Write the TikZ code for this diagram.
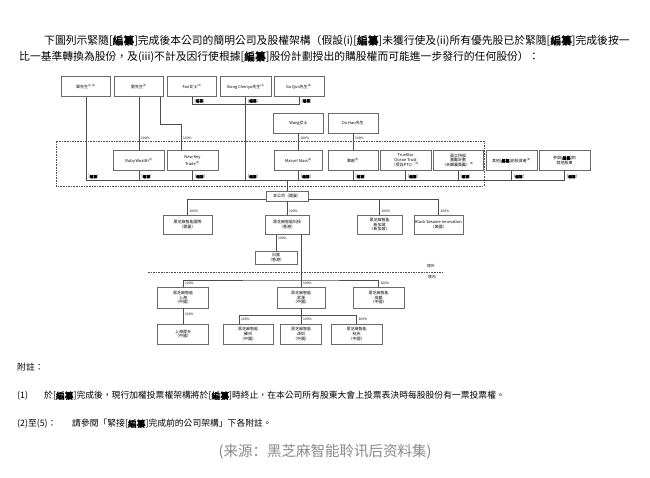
\documentclass[tikz,border=0pt]{standalone}
\usepackage{fontspec}
\setmainfont{Noto Sans CJK TC}[AutoFakeBold=2]
\newfontfamily\jian{Noto Sans CJK SC}
\usetikzlibrary{positioning, calc}
\definecolor{linea}{HTML}{4D4D4D}
\definecolor{borde}{HTML}{6A6A6A}
\definecolor{fuente}{HTML}{8A8A8A}
\newcommand{\bz}{[\textbf{編纂}]}
\newcommand{\nt}[1]{\textsuperscript{(#1)}}

\begin{document}
\begin{tikzpicture}[x=1pt, y=-1pt,
  font=\fontsize{4}{4.8}\selectfont,
  caja/.style={rectangle, draw=borde, line width=0.6pt, fill=white, align=center,
               inner sep=0.5pt, minimum width=50pt, minimum height=19pt},
  lin/.style={draw=linea, line width=0.45pt},
  grp/.style={draw=linea, line width=0.4pt, dash pattern=on 1.6pt off 1pt},
  pct/.style={anchor=south west, inner sep=0.4pt, font=\fontsize{3.3}{4}\selectfont},
  bzlbl/.style={anchor=south west, inner sep=0.4pt, font=\fontsize{3.6}{4}\selectfont},
  zona/.style={inner sep=0.4pt, font=\fontsize{3.8}{4}\selectfont},
  texto/.style={anchor=west, inner sep=0pt, font=\fontsize{10.8}{12}\selectfont},
  nota/.style={anchor=west, inner sep=0pt, font=\fontsize{8.8}{10}\selectfont},
]
\fill[white] (0,0) rectangle (650,478);
\useasboundingbox (0,0) rectangle (650,478);

% --- Texto introductorio ---
\node[texto] (enc1) at (44,41) {下圖列示緊隨\bz{}完成後本公司的簡明公司及股權架構（假設(i)\bz{}未獲行使及(ii)所有優先股已於緊隨\bz{}完成後按一};
\node[texto] (enc2) at (19,57) {比一基準轉換為股份，及(iii)不計及因行使根據\bz{}股份計劃授出的購股權而可能進一步發行的任何股份）：};

% --- Accionistas ---
\node[caja, minimum width=49pt, minimum height=20pt] (shan) at (86,86.5) {單先生\nt{1}\nt{2}};
\node[caja, minimum width=49pt, minimum height=20pt] (liu) at (139,86.5) {劉先生\nt{3}};
\node[caja, minimum width=49pt, minimum height=20pt] (fan) at (192,86.5) {Fan女士\nt{4}};
\node[caja, minimum width=51pt, minimum height=20pt] (xiong) at (245.5,86.5) {Xiong Chenyu先生\nt{4}};
\node[caja, minimum height=20pt] (gu) at (299,86.5) {Gu Qun先生\nt{4}};
\node[caja, minimum height=20pt] (wang) at (298.5,123) {Wang女士};
\node[caja, minimum height=20pt] (du) at (353,123) {Du Hao先生};

% --- Vehiculos (caja discontinua) ---
\draw[grp] (56,141) rectangle (484,186);
\node[caja, minimum width=51pt, minimum height=20pt] (ruby) at (139,160.5) {Ruby Wealth\nt{2}};
\node[caja, minimum width=51pt, minimum height=20pt] (newkey) at (192.5,160.5) {New Key\\Trade\nt{3}};
\node[caja, minimum width=48pt, minimum height=20pt] (marvel) at (298.5,160.5) {Marvel Stars\nt{4}};
\node[caja, minimum height=20pt] (hua) at (353,160.5) {華創\nt{5}};
\node[caja, minimum width=51pt, minimum height=20pt] (trust) at (405.5,160.5) {TrueStar\\Ocean Trust\\（受託PTC）\nt{5}};
\node[caja, minimum height=20pt] (esop) at (458,160.5) {員工持股\\激勵計劃\\（未歸屬獎勵）\nt{5}};
\node[caja, minimum width=51pt, minimum height=20pt] (preipo) at (511.5,160.5) {其他\bz{}前投資者\nt{5}};
\node[caja, minimum width=51pt, minimum height=20pt] (otros) at (564.5,160.5) {參與\bz{}的\\其他股東};

% --- Lineas de control ---
\coordinate (bus) at (0,180);
\coordinate (k1) at (181,124);
\draw[lin] (liu.south) -- (ruby.north);
\draw[lin] ([xshift=21pt]liu.south) |- (k1) -- (k1 |- newkey.north);
\draw[lin] (wang.south) -- (marvel.north);
\draw[lin] (du.south) -- (hua.north);
\draw[lin] (fan.south) -- ++(0,7.5) -| (gu.south);
\draw[lin] (xiong.south) -- (xiong.south |- bus);
\draw[lin] (shan.south) -- (shan.south |- bus);
\foreach \n in {ruby,newkey,marvel,hua,trust,esop,preipo,otros}
  \draw[lin] (\n.south) -- (\n.south |- bus);
\draw[lin] (shan.south |- bus) -- (otros.south |- bus);

\path (ruby.north) ++(0,-10) node[pct, xshift=1.5pt] {100\%};
\path (k1 |- newkey.north) ++(0,-10) node[pct, xshift=1.5pt] {100\%};
\path (marvel.north) ++(0,-10) node[pct, xshift=1.5pt] {100\%};
\path (hua.north) ++(0,-10) node[pct, xshift=1.5pt] {100\%};

\foreach \n in {fan,xiong,gu}
  \path (\n.south) ++(0,7.5) node[bzlbl, xshift=2pt, yshift=0.8pt] {\bz};
\foreach \n in {shan,xiong,ruby,newkey,marvel,hua,trust,esop,preipo,otros}
  \path (\n.south |- bus) node[bzlbl, xshift=2pt, yshift=0.8pt] {\bz};

% --- Sociedad y filiales en el extranjero ---
\node[caja, minimum width=42pt, minimum height=10pt] (co) at (287,196) {本公司（開曼）};
\draw[lin] (co.north |- bus) -- (co.north);

\coordinate (sb) at (0,199);
\node[caja, minimum width=49pt] (bvi) at (187.5,224.5) {黑芝麻智能國際\\（開曼）};
\node[caja, minimum width=44pt] (hk) at (287,224.5) {黑芝麻智能科技\\（香港）};
\node[caja, minimum width=45pt] (sg) at (379.5,224.5) {黑芝麻智能\\新加坡\\（新加坡）};
\node[caja, minimum width=49pt] (us) at (438.5,224.5) {Black Sesame Innovation\\（美國）};
\draw[lin] (bvi.north) |- (co.west |- sb);
\draw[lin] (us.north) |- (co.east |- sb);
\draw[lin] (sg.north) -- (sg.north |- sb);
\draw[lin] (co.south) -- (hk.north);
\foreach \n in {bvi,hk,sg,us}
  \path (\n.north) node[pct, xshift=1.5pt, yshift=1.2pt] {100\%};

\node[caja, minimum width=42pt, minimum height=13pt] (rifu) at (276,257.5) {日富\\（香港）};
\draw[lin] (rifu.north |- hk.south) -- (rifu.north);
\path (rifu.north |- hk.south) node[pct, anchor=north west, xshift=1.5pt, yshift=-2.5pt] {100\%};

% --- Linea境外 / 境內 ---
\coordinate (jw1) at (148,272);
\coordinate (jw2) at (443,272);
\draw[grp] (jw1) -- (jw2);
\node[zona] (jingwai) at (431,266.5) {境外};
\node[zona] (jingnei) at (432,277.5) {境內};

% --- Filiales en China ---
\coordinate (cb) at (0,280);
\node[caja, minimum width=51pt, minimum height=21pt] (sh) at (183,297.5) {黑芝麻智能\\上海\\（中國）};
\node[caja, minimum width=48pt, minimum height=21pt] (wh) at (301,297.5) {黑芝麻智能\\武漢\\（中國）};
\node[caja, minimum width=51pt, minimum height=21pt] (cd) at (378.5,297.5) {黑芝麻智能\\成都\\（中國）};
\draw[lin] ([xshift=14pt]hk.south) -- (wh.north);
\draw[lin] (sh.north) |- (wh.north |- cb) -| (cd.north);
\foreach \n in {sh,wh,cd}
  \path (\n.north) node[pct, xshift=1.5pt, yshift=1.2pt] {100\%};

\coordinate (wb) at (0,315);
\node[caja, minimum width=51pt, minimum height=20pt] (hot) at (183,334) {上海厚天\\（中國）};
\node[caja, minimum height=20pt] (sz) at (248,334) {黑芝麻智能\\蘇州\\（中國）};
\node[caja, minimum width=41pt, minimum height=20pt] (szh) at (301,334) {黑芝麻智能\\深圳\\（中國）};
\node[caja, minimum width=51pt, minimum height=20pt] (hz) at (356.5,334) {黑芝麻智能\\杭州\\（中國）};
\draw[lin] (sh.south) -- (hot.north);
\draw[lin] (wh.south) -- (wh.south |- wb);
\draw[lin] ([xshift=-9pt]sz.north) |- (wb -| hz.north) -- (hz.north);
\draw[lin] (szh.north) -- (szh.north |- wb);
\path (hot.north) ++(0,-8) node[pct, xshift=1.5pt] {100\%};
\path ([xshift=-9pt]sz.north) node[pct, xshift=1.5pt, yshift=3pt] {100\%};
\foreach \n in {szh,hz}
  \path (\n.north) node[pct, xshift=1.5pt, yshift=3pt] {100\%};

% --- Notas ---
\node[nota] (notas) at (17,367) {附註：};
\node[nota] (n1) at (17,396) {(1)};
\node[nota] (n1t) at (44,396) {於\bz{}完成後，現行加權投票權架構將於\bz{}時終止，在本公司所有股東大會上投票表決時每股股份有一票投票權。};
\node[nota] (n2) at (17,424) {(2)至(5)：};
\node[nota] (n2t) at (72,424) {請參閱「緊接\bz{}完成前的公司架構」下各附註。};
\node[font=\jian\fontsize{14.5}{16}\selectfont, text=fuente] (fuente) at (325,452) {(来源：黑芝麻智能聆讯后资料集)};

\end{tikzpicture}
\end{document}
